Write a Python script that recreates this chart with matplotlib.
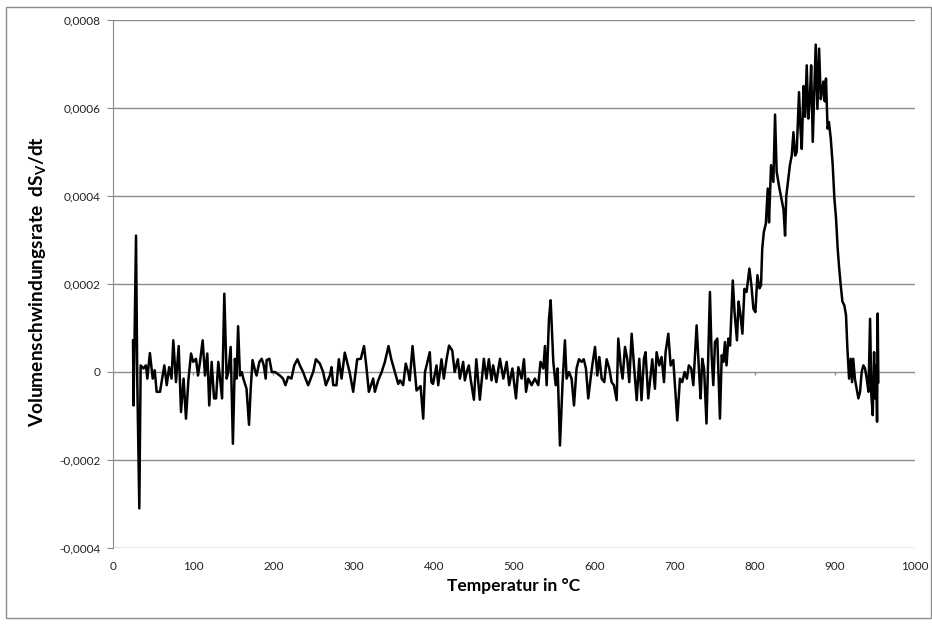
import numpy as np
import matplotlib
matplotlib.use('Agg')
import matplotlib.pyplot as plt
from matplotlib.patches import Rectangle

plt.rcParams['font.family'] = ['Lato', 'DejaVu Sans']

# temperature in degC, rate in units of 1e-4
temp = [25, 25.6, 26.5, 28.7, 30.3, 32.8, 34.5, 38, 41, 42.8, 46, 49.5, 52, 54.4, 58.6, 62, 64, 67, 70, 73,
        75.2, 78.5, 81.9, 84.8, 88, 91, 94, 97.3, 100, 103.5, 106, 108.5, 111.8, 114.7, 117.6, 120, 123, 126,
        128.5, 131.3, 133.4, 136, 138.8, 141.7, 143.8, 146.7, 149.5, 152, 154, 156, 158.3, 160.5, 162.5, 166.5,
        169.6, 171.7, 174, 177, 179, 182.5, 185.4, 188, 190.4, 191.6, 195, 198, 202, 208, 212, 215, 218.5,
        222.5, 226, 230,
        233, 237, 240, 243.4, 246.5, 249.6, 253, 258, 262, 265.4, 270.4, 272.5, 274.6, 278.7, 281.6, 285, 289,
        295, 299.5, 304.5, 309, 313, 316, 319, 324.4, 326.5, 330.7, 335, 339, 343.5, 347, 351.4, 355.6, 358,
        361.8, 365, 368, 370, 373.5, 376.4, 378.5, 383.5, 386.8, 389, 392, 395, 397, 399, 403.4, 405.5, 409.6,
        412.5, 416, 419, 423, 426, 430, 432.5, 436.6, 438.7, 441, 443.7, 446, 450, 453, 457.4, 462.4, 465.7,
        468.6, 472, 474, 478,
        482.5, 486.7, 490.8, 494, 498, 502.5, 505.4, 509.5, 512.4, 515, 517.8, 522, 526, 530.3, 533, 536.5,
        538.6, 540.7, 543.6, 545.7, 549, 552, 554.4, 557.3, 560.6, 563.5, 565.6, 568.5, 571.8, 574.8, 578, 581,
        584.3, 587, 589.7, 592.6, 595.5, 597.6, 601, 603.9, 606.4, 609.3, 612.6, 615.5, 618.8, 621.7, 624.6,
        628, 630, 633, 635.4, 638.4, 641.2, 643.7, 646.7, 649.6, 653, 656.2, 659, 662, 664, 667.4, 669.5,
        672.4, 675.7, 677.8, 681.2, 684, 687, 689, 692.4, 695.3, 698.6, 700.7, 703.6, 706.9, 709.8, 712.7,
        715.6, 718, 721, 723.6, 727.7, 731, 732.7, 734.7, 737, 740, 742, 744.3, 746.4, 748.5, 750.6, 753.5,
        756.8,
        759, 761, 763, 765, 767.2, 769.4, 771.4, 772.8, 775, 778, 780, 782, 784.8, 787.3, 790, 793.5, 796,
        798.5, 801, 803.5, 806, 808, 809.5, 811.5, 814, 816.4, 818, 820.5, 823.4, 825.5, 827.5, 831, 833.5,
        836, 838, 839.5, 842, 844, 846.3, 848.4, 850.5, 852.5, 855.4, 857, 858.8, 861, 863, 865, 867, 869,
        870.5, 872.5, 874.3, 876.2, 878.3, 880.4, 882.5, 884, 885.8, 887.5, 889, 891, 892.7, 895, 897.4, 899.5,
        901.6, 903.6, 905.5, 907.4, 909.5, 911.8, 914, 915.7, 917.8, 919.8, 921.5, 923, 925, 927.3, 929.4,
        931.5, 933.5, 935.6, 937.7, 939.8, 942, 944, 945.6, 947.3, 949, 950.2, 951.5, 952.7, 953.5, 954.3]

rate_e4 = [0.72, -0.76, 0.3, 3.1, -0.23, -3.1, 0.15, 0.08, 0.15, -0.15, 0.43, -0.15, 0.04, -0.45, -0.45, -0.08,
           0.15, -0.3, 0.11, -0.15, 0.72, -0.23, 0.59, -0.91, -0.15, -1.06, -0.19, 0.42, 0.23, 0.3, -0.08, 0.23,
           0.72, -0.08, 0.42, -0.76, 0.23, -0.6, -0.6, 0.23, -0.15, -0.6, 1.78, -0.15, 0.0, 0.57, -1.63, 0.3,
           -0.15, 1.04, -0.08, 0.0, -0.15, -0.38, -1.2, -0.38, 0.27, 0.04, -0.08, 0.23, 0.3, 0.15, -0.15, 0.27,
           0.3, 0.0, 0.0, -0.08, -0.15, -0.3, -0.11, -0.15, 0.15, 0.29,
           0.15, 0.0, -0.15, -0.3, -0.15, 0.0, 0.29, 0.19, 0.0, -0.3, -0.08, 0.11, -0.3, -0.3, 0.29, -0.15, 0.44,
           0.0, -0.45, 0.29, 0.3, 0.59, 0.11, -0.45, -0.15, -0.45, -0.19, 0.0, 0.23, 0.59, 0.29, 0.0, -0.27,
           -0.19, -0.3, 0.19, 0.0, -0.19, 0.59, 0.0, -0.42, -0.32, -1.06, 0.0, 0.23, 0.45, -0.23, -0.27, 0.15,
           -0.3, 0.29, -0.15, 0.3, 0.6, 0.49, 0.0, 0.29, -0.15, 0.23, -0.19, 0.0, 0.15, -0.17, -0.63, 0.29, -0.63,
           0.3, -0.15, 0.29, -0.19, 0.15, -0.23,
           0.3, -0.15, 0.23, -0.3, 0.08, -0.6, 0.11, -0.15, 0.29, -0.45, -0.15, -0.3, -0.15, -0.3, 0.23, 0.08,
           0.59, -0.3, 1.21, 1.63, 0.23, -0.3, 0.08, -1.67, -0.23, 0.72, -0.15, 0.0, -0.15, -0.76, 0.08, 0.29,
           0.23, 0.29, 0.08, -0.6, -0.15, 0.15, 0.57, -0.08, 0.34, -0.15, -0.23, 0.29, 0.08, -0.23, -0.3, -0.64,
           0.76, 0.15, -0.15, 0.57, 0.3, -0.23, 0.87, 0.15, -0.64, 0.3, -0.64, 0.3, 0.45, -0.6, -0.23, 0.29,
           -0.38, 0.45, 0.15, 0.34, -0.23, 0.45, 0.87, 0.15, 0.27, -0.3, -1.1, -0.15, -0.23, 0.0, -0.15, 0.15,
           0.08, -0.3, 1.06, -0.08, -0.6, 0.3, 0.08, -1.17, 0.23, 1.82, 0.38, -0.3, 0.68, 0.76, -1.06,
           0.38, 0.23, 0.68, 0.15, 0.76, 0.6, 1.44, 2.08, 1.36, 0.72, 1.6, 1.36, 0.87, 1.89, 1.82, 2.35, 1.97,
           1.44, 1.36, 2.2, 1.9, 1.97, 2.8, 3.18, 3.37, 4.17, 3.4, 4.7, 4.32, 5.85, 4.55, 4.17, 3.94, 3.7, 3.1,
           4.0, 4.4, 4.7, 4.92, 5.45, 4.92, 5.0, 6.36, 5.6, 5.07, 6.5, 5.8, 6.97, 5.76, 6.25, 6.97, 5.23, 6.3,
           7.44, 5.98, 7.35, 6.2, 6.36, 6.6, 6.15, 6.67, 5.53, 5.68, 5.3, 4.7, 3.94, 3.48, 2.8, 2.35, 1.97, 1.6,
           1.52, 1.29, 0.53, -0.15, 0.3, -0.23, 0.3, -0.15, -0.38, -0.6, -0.45, 0.0, 0.15, 0.08, -0.15, -0.45,
           1.21, -0.53, -0.98, 0.45, -0.6, 0.15, -1.13, 1.33, -0.23]

rate = np.array(rate_e4) * 1e-4

x_ticks = [0, 100, 200, 300, 400, 500, 600, 700, 800, 900, 1000]
y_ticks = [-0.0004, -0.0002, 0, 0.0002, 0.0004, 0.0006, 0.0008]
y_labels = ['-0,0004', '-0,0002', '0', '0,0002', '0,0004', '0,0006', '0,0008']

grid_col = '#8c8c8c'

fig = plt.figure(figsize=(9.32, 6.24), dpi=100)
ax = fig.add_axes([113/932, 1 - 548/624, 802/932, 528/624])

ax.plot(temp, rate, color='black', lw=1.8, zorder=3)

ax.set_xlim(0, 1000)
ax.set_ylim(-0.0004, 0.0008)
ax.set_xticks(x_ticks)
ax.set_yticks(y_ticks)
ax.set_yticklabels(y_labels)
ax.grid(axis='y', color=grid_col, lw=1)
ax.set_axisbelow(True)

for s in ['top', 'right', 'bottom']:
    ax.spines[s].set_visible(False)
ax.spines['left'].set_color(grid_col)
ax.tick_params(axis='y', length=4, color=grid_col, labelsize=8.5, pad=5, labelcolor='#222222')
ax.tick_params(axis='x', length=0, labelsize=8.5, pad=9, labelcolor='#222222')

# excel style: horizontal axis crosses at zero, tick marks pointing down
ax.vlines(x_ticks, 0, -7e-6, color=grid_col, lw=1)

ax.set_xlabel('Temperatur in °C', fontsize=12.5, fontweight='bold', labelpad=5)
ax.set_ylabel('Volumenschwindungsrate  dS$_\\mathregular{V}$/dt', fontsize=13.8, fontweight='bold')
ax.yaxis.set_label_coords(-0.080, 0.505)

fig.patches.append(Rectangle((6/932, 6/624), 925/932, 611/624, transform=fig.transFigure,
                             fill=False, edgecolor='#8c8c8c', lw=1))

fig.savefig('out.png', dpi=100)
